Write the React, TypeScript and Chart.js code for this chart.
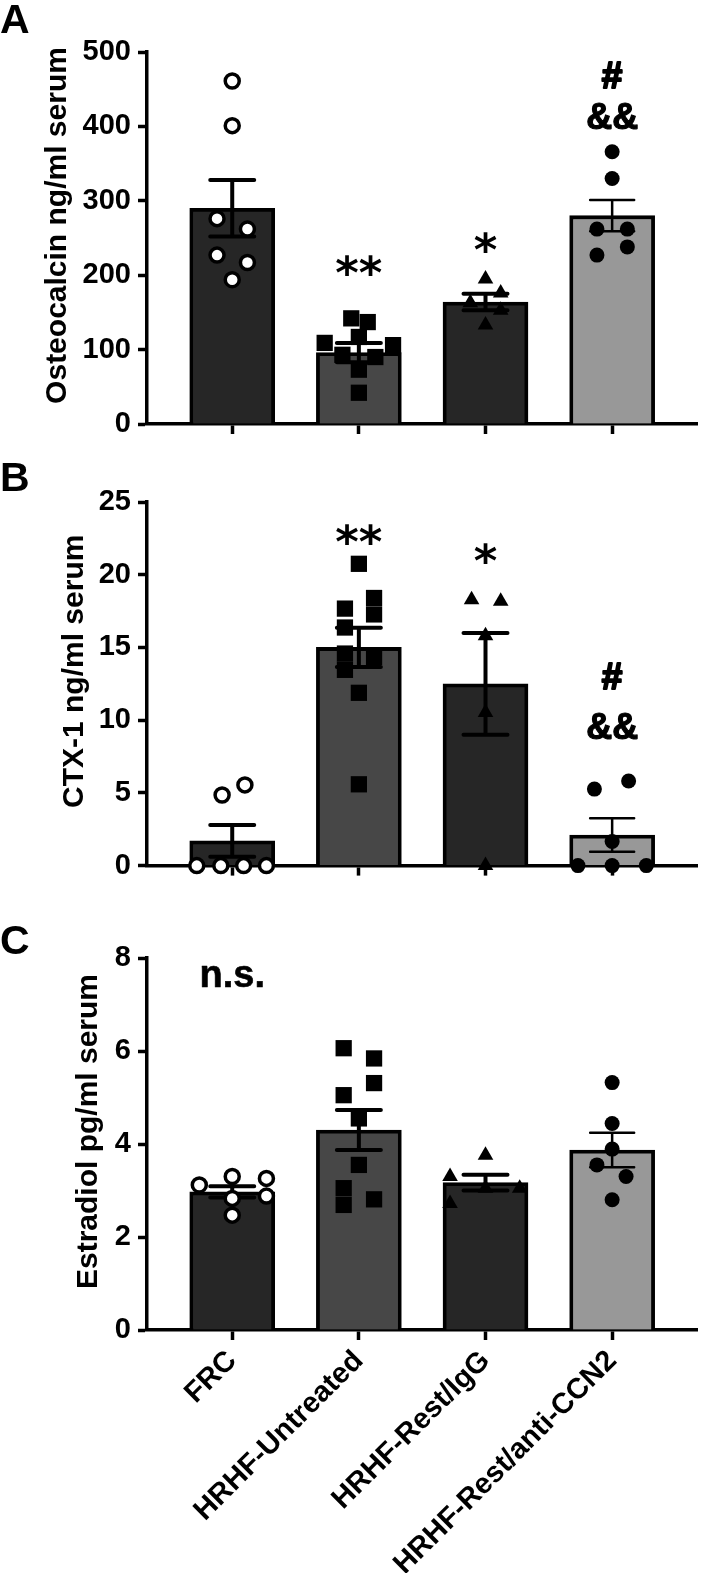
import React, { useEffect, useRef } from "react";
import { Chart, registerables } from "chart.js";
Chart.register(...registerables);

const FONT = "'Liberation Sans', Arial, Helvetica, sans-serif";

const categories = ["FRC", "HRHF-Untreated", "HRHF-Rest/IgG", "HRHF-Rest/anti-CCN2"];
const barColors = ["#262626", "#474747", "#262626", "#989898"];

// ---------- Panel A : Osteocalcin ----------
const osteoTicks = [0, 100, 200, 300, 400, 500];
const osteoMean = [290, 96, 164, 280];
const osteoSem = [38, 13, 11, 21];
const osteoFRC = [[0, 461], [0, 401], [-0.12, 276], [0.12, 262], [-0.12, 227], [0.12, 217], [0, 194]];
const osteoUntreated = [[-0.06, 142], [0.07, 137], [0, 117], [-0.27, 109], [0.27, 106], [-0.13, 93], [0.13, 90], [0, 73], [0, 42]];
const osteoIgG = [[0, 195], [0.12, 176], [-0.12, 163], [0.12, 153], [0, 133]];
const osteoAnti = [[0, 366], [0, 330], [-0.12, 262], [0.12, 262], [-0.12, 227], [0.12, 238]];
const osteoNotes = [
  { text: "**", cat: 1, value: 216 },
  { text: "*", cat: 2, value: 247 },
  { text: "#", cat: 3, value: 469 },
  { text: "&&", cat: 3, value: 413 },
];

// ---------- Panel B : CTX-1 ----------
const ctxTicks = [0, 5, 10, 15, 20, 25];
const ctxMean = [1.7, 15.0, 12.5, 2.1];
const ctxSem = [1.1, 1.35, 3.5, 1.15];
const ctxFRC = [[-0.08, 4.85], [0.1, 5.55], [-0.28, 0], [-0.09, 0], [0.09, 0], [0.27, 0]];
const ctxUntreated = [[0, 20.75], [0.12, 18.4], [-0.11, 17.67], [0.12, 17.27], [-0.11, 16.37], [-0.11, 14.58], [0.12, 14.35], [-0.11, 13.46], [0, 11.88], [0, 5.59]];
const ctxIgG = [[-0.11, 18.28], [0.12, 18.17], [0, 15.8], [0, 10.53], [0, 0]];
const ctxAnti = [[-0.14, 5.26], [0.13, 5.82], [0, 1.66], [-0.27, 0], [0, 0], [0.27, 0]];
const ctxNotes = [
  { text: "**", cat: 1, value: 22.9 },
  { text: "*", cat: 2, value: 21.6 },
  { text: "#", cat: 3, value: 13.0 },
  { text: "&&", cat: 3, value: 9.6 },
];

// ---------- Panel C : Estradiol ----------
const e2Ticks = [0, 2, 4, 6, 8];
const e2Mean = [2.97, 4.3, 3.17, 3.87];
const e2Sem = [0.12, 0.43, 0.17, 0.37];
const e2FRC = [[-0.26, 3.12], [0, 3.3], [0.27, 3.26], [0.27, 2.88], [0, 2.83], [0, 2.47]];
const e2Untreated = [[-0.12, 6.06], [0.12, 5.84], [0.12, 5.31], [-0.12, 5.05], [0, 4.55], [0, 3.55], [-0.12, 3.05], [0.12, 2.81], [-0.12, 2.69]];
const e2IgG = [[0, 3.76], [-0.28, 3.3], [0.27, 3.05], [-0.28, 2.72], [0, 3.05]];
const e2Anti = [[0, 5.32], [0, 4.44], [0, 3.89], [-0.12, 3.55], [0.11, 3.3], [0, 2.8]];
const e2Notes = [{ text: "n.s.", cat: 0, value: 7.59 }];

// point styles per group
const pointStyles = ["circle", "rect", "triangle", "circle"];
const pointRadii = [7, 11.5, 9, 7.5];
const pointFills = ["#ffffff", "#000000", "#000000", "#000000"];
const pointBorders = [3.5, 0, 0, 0];
const errWidths = [4, 4, 4, 2.5];

const errorBarPlugin = {
  id: "errorBars",
  afterDatasetDraw(chart: any, args: any, opts: any) {
    if (args.index !== 0) return;
    const { ctx } = chart;
    const x = chart.scales.x;
    const y = chart.scales.y;
    ctx.save();
    ctx.strokeStyle = "#000";
    ctx.lineCap = "round";
    opts.means.forEach((m: number, i: number) => {
      const px = x.getPixelForValue(i);
      const hi = y.getPixelForValue(m + opts.sems[i]);
      const lo = y.getPixelForValue(m - opts.sems[i]);
      ctx.lineWidth = errWidths[i];
      ctx.beginPath();
      ctx.moveTo(px, hi);
      ctx.lineTo(px, lo);
      ctx.moveTo(px - 22, hi);
      ctx.lineTo(px + 22, hi);
      ctx.moveTo(px - 22, lo);
      ctx.lineTo(px + 22, lo);
      ctx.stroke();
    });
    ctx.restore();
  },
};

function noteStyle(text: string) {
  if (text.startsWith("*")) return { font: `bold 45px 'DejaVu Sans'`, off: 0.54 * 45, stroke: 0 };
  if (text === "#") return { font: `bold 37px ${FONT}`, off: 0.35 * 37, stroke: 2 };
  if (text === "&&") return { font: `bold 36px ${FONT}`, off: 0.35 * 36, stroke: 1.2 };
  return { font: `bold 38px ${FONT}`, off: 0.26 * 38, stroke: 0.6 };
}

const notesPlugin = {
  id: "notes",
  afterDatasetsDraw(chart: any, _args: any, opts: any) {
    const { ctx } = chart;
    const x = chart.scales.x;
    const y = chart.scales.y;
    ctx.save();
    ctx.fillStyle = "#000";
    ctx.strokeStyle = "#000";
    ctx.lineJoin = "round";
    ctx.textAlign = "center";
    ctx.textBaseline = "alphabetic";
    opts.items.forEach((n: any) => {
      const st = noteStyle(n.text);
      ctx.font = st.font;
      const px = x.getPixelForValue(n.cat);
      const py = y.getPixelForValue(n.value) + st.off;
      ctx.fillText(n.text, px, py);
      if (st.stroke > 0) {
        ctx.lineWidth = st.stroke;
        ctx.strokeText(n.text, px, py);
      }
    });
    ctx.restore();
  },
};

function makeConfig(p: any): any {
  const datasets: any[] = [
    {
      type: "bar",
      data: p.means.map((m: number, i: number) => ({ x: i, y: m })),
      backgroundColor: barColors,
      borderColor: "#000",
      borderWidth: 3.8,
      barThickness: 85,
      order: 1,
    },
    ...p.groups.map((g: number[][], i: number) => ({
      type: "scatter",
      data: g.map(([dx, v]) => ({ x: i + dx, y: v })),
      pointStyle: pointStyles[i],
      pointRadius: pointRadii[i],
      pointBackgroundColor: pointFills[i],
      pointBorderColor: "#000",
      pointBorderWidth: pointBorders[i],
      showLine: false,
      clip: false,
      order: 0,
    })),
  ];
  const tickFont = { family: FONT, size: 29, weight: "bold" };
  return {
    type: "bar",
    data: { datasets },
    plugins: [errorBarPlugin, notesPlugin],
    options: {
      responsive: false,
      animation: false,
      events: [],
      layout: { padding: { top: p.padTop, left: 0, right: 0, bottom: 0 } },
      plugins: {
        legend: { display: false },
        tooltip: { enabled: false },
        errorBars: { means: p.means, sems: p.sems },
        notes: { items: p.notes },
      },
      scales: {
        x: {
          type: "linear",
          bounds: "data",
          min: -0.673,
          max: 3.674,
          offset: false,
          afterBuildTicks: (s: any) => {
            s.ticks = categories.map((_, i) => ({ value: i }));
          },
          afterFit: (s: any) => {
            s.height = p.xAxisHeight;
          },
          grid: {
            display: true,
            offset: false,
            drawOnChartArea: false,
            drawTicks: true,
            tickLength: 10,
            tickWidth: 3.5,
            tickColor: "#000",
            color: "#000",
          },
          border: { display: true, color: "#000", width: 3.5 },
          ticks: {
            autoSkip: false,
            maxRotation: p.showLabels ? 45 : 0,
            minRotation: p.showLabels ? 45 : 0,
            padding: 4,
            color: "#000",
            font: { family: FONT, size: 29, weight: "bold" },
            callback: (v: number) => (p.showLabels ? categories[v] : ""),
          },
        },
        y: {
          type: "linear",
          min: p.ticks[0],
          max: p.ticks[p.ticks.length - 1],
          afterBuildTicks: (s: any) => {
            s.ticks = p.ticks.map((v: number) => ({ value: v }));
          },
          afterFit: (s: any) => {
            s.width = 147;
          },
          grid: {
            display: true,
            drawOnChartArea: false,
            drawTicks: true,
            tickLength: 9,
            tickWidth: 3.5,
            tickColor: "#000",
            color: "#000",
          },
          border: { display: true, color: "#000", width: 3.5 },
          ticks: { padding: 7, color: "#000", font: tickFont },
          title: {
            display: true,
            text: "   " + p.title,
            color: "#000",
            font: { family: FONT, size: 30, weight: "bold" },
            padding: { top: p.titlePad, bottom: 0 },
          },
        },
      },
    },
  };
}

const panelA = {
  ticks: osteoTicks, means: osteoMean, sems: osteoSem,
  groups: [osteoFRC, osteoUntreated, osteoIgG, osteoAnti],
  notes: osteoNotes, title: "Osteocalcin ng/ml serum",
  padTop: 52, xAxisHeight: 26, titlePad: 40, showLabels: false,
};
const panelB = {
  ticks: ctxTicks, means: ctxMean, sems: ctxSem,
  groups: [ctxFRC, ctxUntreated, ctxIgG, ctxAnti],
  notes: ctxNotes, title: "CTX-1 ng/ml serum",
  padTop: 52, xAxisHeight: 17, titlePad: 57, showLabels: false,
};
const panelC = {
  ticks: e2Ticks, means: e2Mean, sems: e2Sem,
  groups: [e2FRC, e2Untreated, e2IgG, e2Anti],
  notes: e2Notes, title: "Estradiol pg/ml serum",
  padTop: 68, xAxisHeight: 243, titlePad: 71, showLabels: true,
};

const letterStyle = (top: number): React.CSSProperties => ({
  position: "absolute",
  left: 0,
  top,
  font: `bold 41px ${FONT}`,
  lineHeight: "41px",
  color: "#000",
});

export default function App() {
  const refA = useRef<HTMLCanvasElement>(null);
  const refB = useRef<HTMLCanvasElement>(null);
  const refC = useRef<HTMLCanvasElement>(null);

  useEffect(() => {
    const charts = [
      new Chart(refA.current as HTMLCanvasElement, makeConfig(panelA)),
      new Chart(refB.current as HTMLCanvasElement, makeConfig(panelB)),
      new Chart(refC.current as HTMLCanvasElement, makeConfig(panelC)),
    ];
    return () => charts.forEach((c) => c.destroy());
  }, []);

  return (
    <div style={{ position: "absolute", left: 0, top: 0, width: 709, height: 1573, background: "#fff", overflow: "hidden" }}>
      <canvas ref={refA} width={709} height={450} style={{ position: "absolute", left: 0, top: 0, width: 709, height: 450 }} />
      <canvas ref={refB} width={709} height={440} style={{ position: "absolute", left: 0, top: 450, width: 709, height: 440 }} />
      <canvas ref={refC} width={709} height={683} style={{ position: "absolute", left: 0, top: 890, width: 709, height: 683 }} />
      <div style={letterStyle(-1)}>A</div>
      <div style={letterStyle(457)}>B</div>
      <div style={letterStyle(920)}>C</div>
    </div>
  );
}
